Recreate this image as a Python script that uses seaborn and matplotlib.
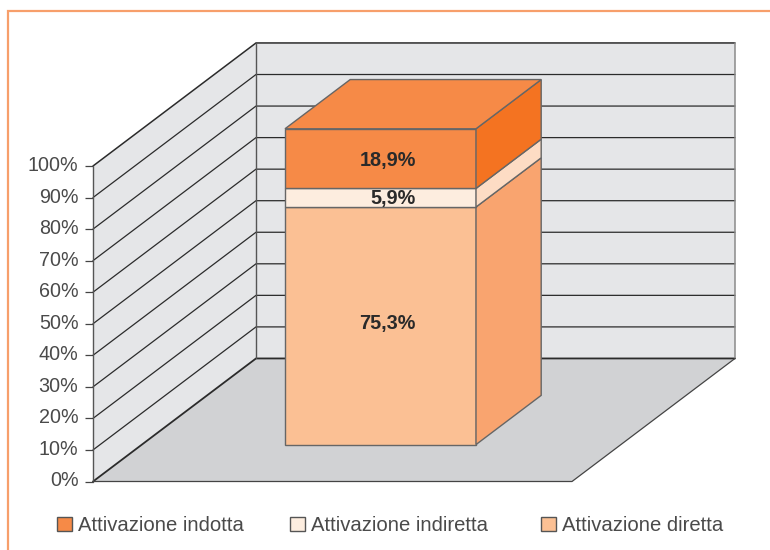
import matplotlib
matplotlib.use("Agg")
import matplotlib.pyplot as plt
from matplotlib.lines import Line2D
from matplotlib.patches import Patch, Polygon
from matplotlib.transforms import ScaledTranslation
import seaborn as sns

# ---- data ----
series = ["Attivazione diretta", "Attivazione indiretta", "Attivazione indotta"]
values = [75.3, 5.9, 18.9]
labels = ["75,3%", "5,9%", "18,9%"]
ticks = [0, 10, 20, 30, 40, 50, 60, 70, 80, 90, 100]
legend_order = ["Attivazione indotta", "Attivazione indiretta", "Attivazione diretta"]

# ---- style ----
front_colors = ["#FBC094", "#FDEDDF", "#F68A47"]
side_colors = ["#F9A46F", "#FDDCC4", "#F47321"]
wall_c, floor_c = "#E5E6E8", "#D1D2D4"
dark, edge = "#2b2b2b", "#666666"
text_c = "#4a4a4a"
label_nudge_px = [4, 1, 0]
legend_x_px = [57, 290, 541]

sns.set_theme(style="white")
plt.rcParams["font.family"] = ["Liberation Sans", "DejaVu Sans"]
W, H = 770, 550
fig = plt.figure(figsize=(W / 100, H / 100), dpi=100)
x0, x1, y_zero, y_full = 93, 572, 481.5, 166
ax = fig.add_axes([x0 / W, 1 - y_zero / H, (x1 - x0) / W, (y_zero - y_full) / H])
span_x, ymax = x1 - x0, 100

# oblique projection: depth 0 = front, 1 = back wall
DX, DY = 163, 39


def P(x, y, d):
    return (x + DX * d, y + DY * d)


def poly(pts, fc, ec=None, lw=0.0, z=1):
    ax.add_patch(Polygon(pts, closed=True, facecolor=fc, edgecolor=ec or fc,
                         linewidth=lw, zorder=z, clip_on=False, joinstyle="miter"))


# floor and walls
poly([P(0, 0, 0), P(span_x, 0, 0), P(span_x, 0, 1), P(0, 0, 1)], floor_c, z=1)
poly([P(0, 0, 0), P(0, ymax, 0), P(0, ymax, 1), P(0, 0, 1)], wall_c, z=1)
poly([P(0, 0, 1), P(0, ymax, 1), P(span_x, ymax, 1), P(span_x, 0, 1)], wall_c, z=1)

# grid
for t in ticks:
    a, b, c = P(0, t, 0), P(0, t, 1), P(span_x, t, 1)
    lw = 1.3 if t == 0 else (1.1 if t == 100 else 0.9)
    ax.plot([a[0], b[0], c[0]], [a[1], b[1], c[1]], color=dark, lw=lw, zorder=2,
            clip_on=False, solid_joinstyle="miter")
ax.plot(*zip(P(0, 0, 0), P(0, ymax, 0)), color="#555555", lw=1.0, zorder=2, clip_on=False)
ax.plot(*zip(P(0, 0, 1), P(0, ymax, 1)), color="#555555", lw=1.0, zorder=2, clip_on=False)
ax.plot(*zip(P(span_x, 0, 1), P(span_x, ymax, 1)), color="#8a8a8a", lw=1.1, zorder=2, clip_on=False)
ax.plot(*zip(P(0, 0, 0), P(span_x, 0, 0), P(span_x, 0, 1)), color="#444444", lw=0.9, zorder=2, clip_on=False)

# stacked bar
bar_left, bar_w, d_front, d_back = 192, 191, 0.3, 0.7
centre = bar_left + bar_w / 2
label_right = bar_left + 131
base = DY * d_front
xr = bar_left + bar_w
ddx, ddy = DX * (d_back - d_front), DY * (d_back - d_front)
cum = 0.0
for v, lab, fc, sc, nudge in zip(values, labels, front_colors, side_colors, label_nudge_px):
    sns.barplot(x=[centre], y=[v], native_scale=True, width=bar_w, color=fc, saturation=1,
                bottom=base + cum, edgecolor=edge, linewidth=1.0, zorder=4, ax=ax,
                clip_on=False)
    poly([(xr, base + cum), (xr + ddx, base + cum + ddy),
          (xr + ddx, base + cum + v + ddy), (xr, base + cum + v)], sc, edge, 1.0, 4)
    ax.annotate(lab, (label_right, base + cum + v / 2), xytext=(0, nudge * 0.72), textcoords="offset points",
                ha="right", va="center_baseline", fontsize=14.3,
                fontweight="bold", color="#2a2a2a", zorder=6, annotation_clip=False)
    cum += v

# top of bar
poly([(bar_left, base + cum), (xr, base + cum), (xr + ddx, base + cum + ddy), (bar_left + ddx, base + cum + ddy)],
     front_colors[2], edge, 1.0, 4)

# axes
ax.set_xlim(0, span_x)
ax.set_ylim(0, ymax)
ax.patch.set_visible(False)
for sp in ["top", "right", "bottom", "left"]:
    ax.spines[sp].set_visible(False)
ax.set_xticks([])
ax.set_xlabel("")
ax.set_ylabel("")
ax.set_yticks(ticks)
ax.set_yticklabels([f"{t}%" for t in ticks], va="center_baseline")
ax.tick_params(axis="y", left=True, length=5.5, width=0.9, color="#444444", labelsize=14.2,
               labelcolor=text_c, pad=5)
up = ScaledTranslation(0, 2.5 / 100, fig.dpi_scale_trans)
for lbl in ax.get_yticklabels():
    lbl.set_transform(lbl.get_transform() + up)

# outer frame
frame = Line2D([8 / W, 8 / W, 1], [0, 1 - 10.5 / H, 1 - 10.5 / H], transform=fig.transFigure,
               color="#F79F6B", lw=1.6, solid_joinstyle="miter")
fig.add_artist(frame)

# legend
for name, lx in zip(legend_order, legend_x_px):
    i = series.index(name)
    h = Patch(facecolor=front_colors[i], edgecolor="#555555", linewidth=1.0)
    fig.legend([h], [name], loc="center left", bbox_to_anchor=(lx / W, 1 - 525.5 / H),
               frameon=False, fontsize=14.6, labelcolor=text_c, handlelength=0.75, handleheight=0.75,
               handletextpad=0.27, borderpad=0, borderaxespad=0)

fig.savefig("out.png", dpi=100)
